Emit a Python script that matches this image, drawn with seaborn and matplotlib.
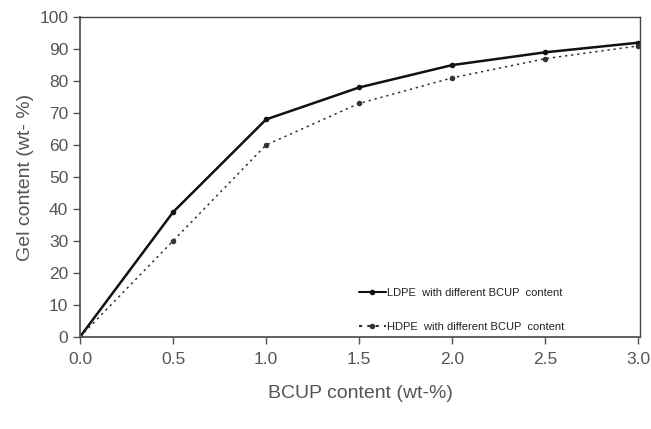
import pandas as pd
import seaborn as sns
import matplotlib.pyplot as plt

# Gel content vs BCUP content
bcup = [0.0, 0.5, 1.0, 1.5, 2.0, 2.5, 3.0]
ldpe_gel = [0, 39, 68, 78, 85, 89, 92]
hdpe_gel = [0, 30, 60, 73, 81, 87, 91]

labels = ["LDPE  with different BCUP  content", "HDPE  with different BCUP  content"]

df = pd.DataFrame({
    "bcup": bcup + bcup,
    "gel": ldpe_gel + hdpe_gel,
    "series": [labels[0]] * len(bcup) + [labels[1]] * len(bcup),
})

sns.set_style("white")
plt.rcParams["font.family"] = ["Liberation Sans", "DejaVu Sans"]

fig = plt.figure(figsize=(6.51, 4.29), dpi=100)
ax = fig.add_axes([0.123, 0.215, 0.86, 0.745])

sns.lineplot(data=df, x="bcup", y="gel", hue="series", style="series",
             palette=["#111111", "#333333"],
             dashes={labels[0]: "", labels[1]: (1.5, 2.5)},
             markers={labels[0]: "o", labels[1]: "o"},
             markersize=4, markeredgewidth=0, ax=ax)

lines = ax.get_lines()
lines[0].set_linewidth(1.8)
lines[1].set_linewidth(1.1)

ax.set_xlim(0, 3.01)
ax.set_ylim(0, 100)
ax.set_xticks([0, 0.5, 1.0, 1.5, 2.0, 2.5, 3.0])
ax.set_xticklabels([f"{v:.1f}" for v in [0, 0.5, 1.0, 1.5, 2.0, 2.5, 3.0]])
ax.set_yticks(range(0, 101, 10))

ax.tick_params(axis="both", direction="out", length=5, width=1,
               color="#555555", labelcolor="#555555", labelsize=12.5,
               bottom=True, left=True)
ax.tick_params(axis="x", pad=6)
for side in ["left", "bottom"]:
    ax.spines[side].set_color("#555555")
    ax.spines[side].set_linewidth(1.3)
for side in ["top", "right"]:
    ax.spines[side].set_color("#444444")
    ax.spines[side].set_linewidth(1.0)

ax.set_xlabel("BCUP content (wt-%)", fontsize=14, color="#555555", labelpad=13)
ax.set_ylabel("Gel content (wt- %)", fontsize=14, color="#555555", labelpad=4)

leg = ax.legend(loc="lower right", bbox_to_anchor=(0.882, -0.016), frameon=False,
                fontsize=8, handlelength=2.4, handletextpad=0.1,
                labelspacing=2.15)
for t in leg.get_texts():
    t.set_color("#222222")

fig.savefig("out.png", dpi=100)
